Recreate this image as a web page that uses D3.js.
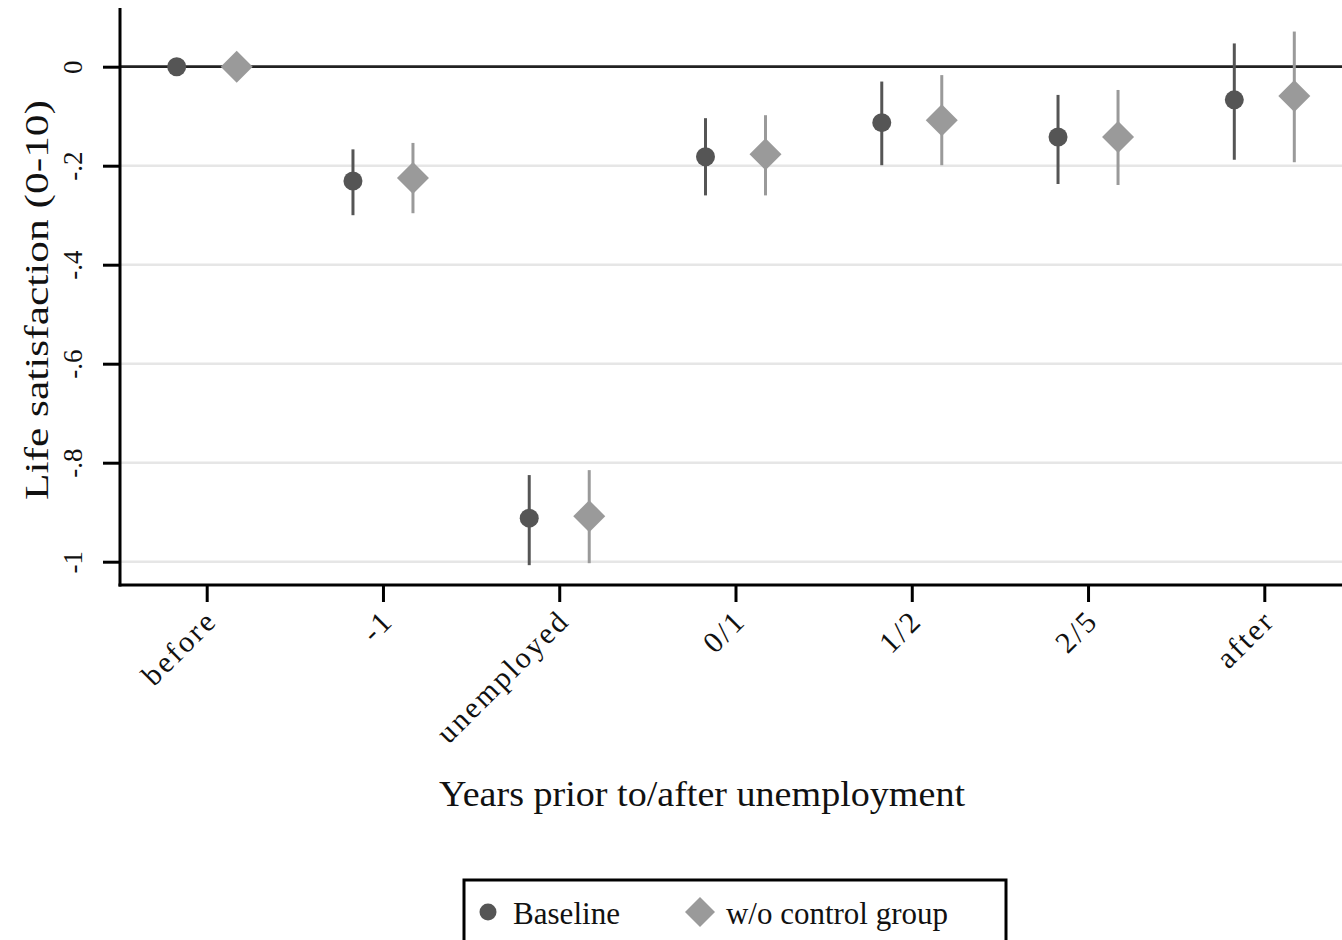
<!DOCTYPE html>
<html>
<head>
<meta charset="utf-8">
<script src="https://cdn.jsdelivr.net/npm/d3@7"></script>
<style>
  html, body { margin: 0; padding: 0; background: #fff; }
  svg { display: block; }
  text { font-family: "Liberation Serif", "Times New Roman", serif; fill: #111; }
</style>
</head>
<body>
<svg id="chart" width="1342" height="940"></svg>
<script>
// Event-study estimates of life satisfaction around unemployment
const categories = ["before", "-1", "unemployed", "0/1", "1/2", "2/5", "after"];

const baselineEst = [0, -0.231, -0.912, -0.182, -0.113, -0.142, -0.067];
const baselineLo  = [null, -0.300, -1.007, -0.260, -0.199, -0.237, -0.188];
const baselineHi  = [null, -0.167, -0.825, -0.104, -0.030, -0.057, 0.047];

const noControlEst = [0, -0.225, -0.908, -0.177, -0.108, -0.142, -0.059];
const noControlLo  = [null, -0.296, -1.003, -0.260, -0.199, -0.239, -0.193];
const noControlHi  = [null, -0.154, -0.815, -0.098, -0.017, -0.047, 0.071];

const yTicks = [0, -0.2, -0.4, -0.6, -0.8, -1];
const yTickLabels = ["0", "-.2", "-.4", "-.6", "-.8", "-1"];

const seriesNames = ["Baseline", "w/o control group"];

const svg = d3.select("#chart");
const plotLeft = 120, plotRight = 1342, plotTop = 8, plotBottom = 585;

const x = d3.scalePoint().domain(categories).range([206.7, 1264.3]);
const y = d3.scaleLinear().domain([-1, 0]).range([561.7, 66.7]);

const offset = 30;
const darkCol = "#555555", lightCol = "#9a9a9a";

// gridlines
svg.append("g").selectAll("line").data(yTicks.filter(d => d !== 0)).join("line")
  .attr("x1", plotLeft).attr("x2", plotRight)
  .attr("y1", d => y(d)).attr("y2", d => y(d))
  .attr("stroke", "#e6e6e6").attr("stroke-width", 2.5);

// zero reference line
svg.append("line")
  .attr("x1", plotLeft).attr("x2", plotRight)
  .attr("y1", y(0)).attr("y2", y(0))
  .attr("stroke", "#222").attr("stroke-width", 2.8);

// y axis
const yAxis = d3.axisLeft(y).tickValues(yTicks)
  .tickFormat((d, i) => yTickLabels[i]).tickSize(17).tickPadding(0);
const gy = svg.append("g").attr("transform", `translate(${plotLeft},0)`).call(yAxis);
gy.select(".domain").remove();
gy.selectAll(".tick line").attr("stroke", "#000").attr("stroke-width", 3);
gy.selectAll(".tick text")
  .attr("transform", "rotate(-90)")
  .attr("x", 0).attr("y", -38)
  .attr("dy", 0)
  .attr("text-anchor", "middle")
  .style("font-size", "27px")
  .style("font-family", "'Liberation Serif', serif")
  .attr("fill", "#111");
svg.append("line").attr("x1", plotLeft).attr("x2", plotLeft)
  .attr("y1", plotTop).attr("y2", plotBottom + 1.5)
  .attr("stroke", "#000").attr("stroke-width", 3);

// x axis
const xAxis = d3.axisBottom(x).tickSize(17).tickPadding(0);
const gx = svg.append("g").attr("transform", `translate(0,${plotBottom})`).call(xAxis);
gx.select(".domain").remove();
gx.selectAll(".tick line").attr("stroke", "#000").attr("stroke-width", 3);
gx.selectAll(".tick text")
  .attr("transform", "translate(4,30) rotate(-45)")
  .attr("x", 0).attr("y", 0).attr("dy", "0.35em")
  .attr("text-anchor", "end")
  .style("font-size", "30px")
  .style("letter-spacing", "2.5px")
  .style("font-family", "'Liberation Serif', serif")
  .attr("fill", "#111");
svg.append("line").attr("x1", plotLeft - 1.5).attr("x2", plotRight)
  .attr("y1", plotBottom).attr("y2", plotBottom)
  .attr("stroke", "#000").attr("stroke-width", 3);

// estimates with confidence intervals
function diamondPath(r) {
  return `M0,${-r}L${r},0L0,${r}L${-r},0Z`;
}
function drawSeries(est, lo, hi, dx, col, shape) {
  const g = svg.append("g");
  const rows = categories.map((c, i) => ({ c, est: est[i], lo: lo[i], hi: hi[i] }));
  g.selectAll("line").data(rows.filter(d => d.lo !== null)).join("line")
    .attr("x1", d => x(d.c) + dx).attr("x2", d => x(d.c) + dx)
    .attr("y1", d => y(d.lo)).attr("y2", d => y(d.hi))
    .attr("stroke", col).attr("stroke-width", 3);
  const markerPath = shape === "circle"
    ? d3.symbol().type(d3.symbolCircle).size(Math.PI * 9.5 * 9.5)()
    : diamondPath(16);
  g.selectAll("path").data(rows).join("path")
    .attr("transform", d => `translate(${x(d.c) + dx},${y(d.est)})`)
    .attr("d", markerPath)
    .attr("fill", col);
}
drawSeries(baselineEst, baselineLo, baselineHi, -offset, darkCol, "circle");
drawSeries(noControlEst, noControlLo, noControlHi, offset, lightCol, "diamond");

// axis titles
svg.append("text")
  .attr("transform", "translate(48,300) rotate(-90)")
  .attr("text-anchor", "middle")
  .attr("textLength", 400).attr("lengthAdjust", "spacingAndGlyphs")
  .style("font-size", "34px")
  .text("Life satisfaction (0-10)");

svg.append("text")
  .attr("x", 702).attr("y", 806)
  .attr("text-anchor", "middle")
  .attr("textLength", 526).attr("lengthAdjust", "spacingAndGlyphs")
  .style("font-size", "36px")
  .text("Years prior to/after unemployment");

// legend
const lg = svg.append("g");
lg.append("rect").attr("x", 464).attr("y", 880).attr("width", 542).attr("height", 80)
  .attr("fill", "#fff").attr("stroke", "#000").attr("stroke-width", 3);
lg.append("path").attr("transform", "translate(488,912)")
  .attr("d", d3.symbol().type(d3.symbolCircle).size(Math.PI * 8.5 * 8.5)).attr("fill", darkCol);
lg.append("text").attr("x", 513).attr("y", 924).style("font-size", "31px")
  .attr("textLength", 107).attr("lengthAdjust", "spacingAndGlyphs")
  .text(seriesNames[0]);
lg.append("path").attr("transform", "translate(700,912)")
  .attr("d", diamondPath(15)).attr("fill", lightCol);
lg.append("text").attr("x", 726).attr("y", 924).style("font-size", "31px")
  .attr("textLength", 222).attr("lengthAdjust", "spacingAndGlyphs")
  .text(seriesNames[1]);
</script>
</body>
</html>
